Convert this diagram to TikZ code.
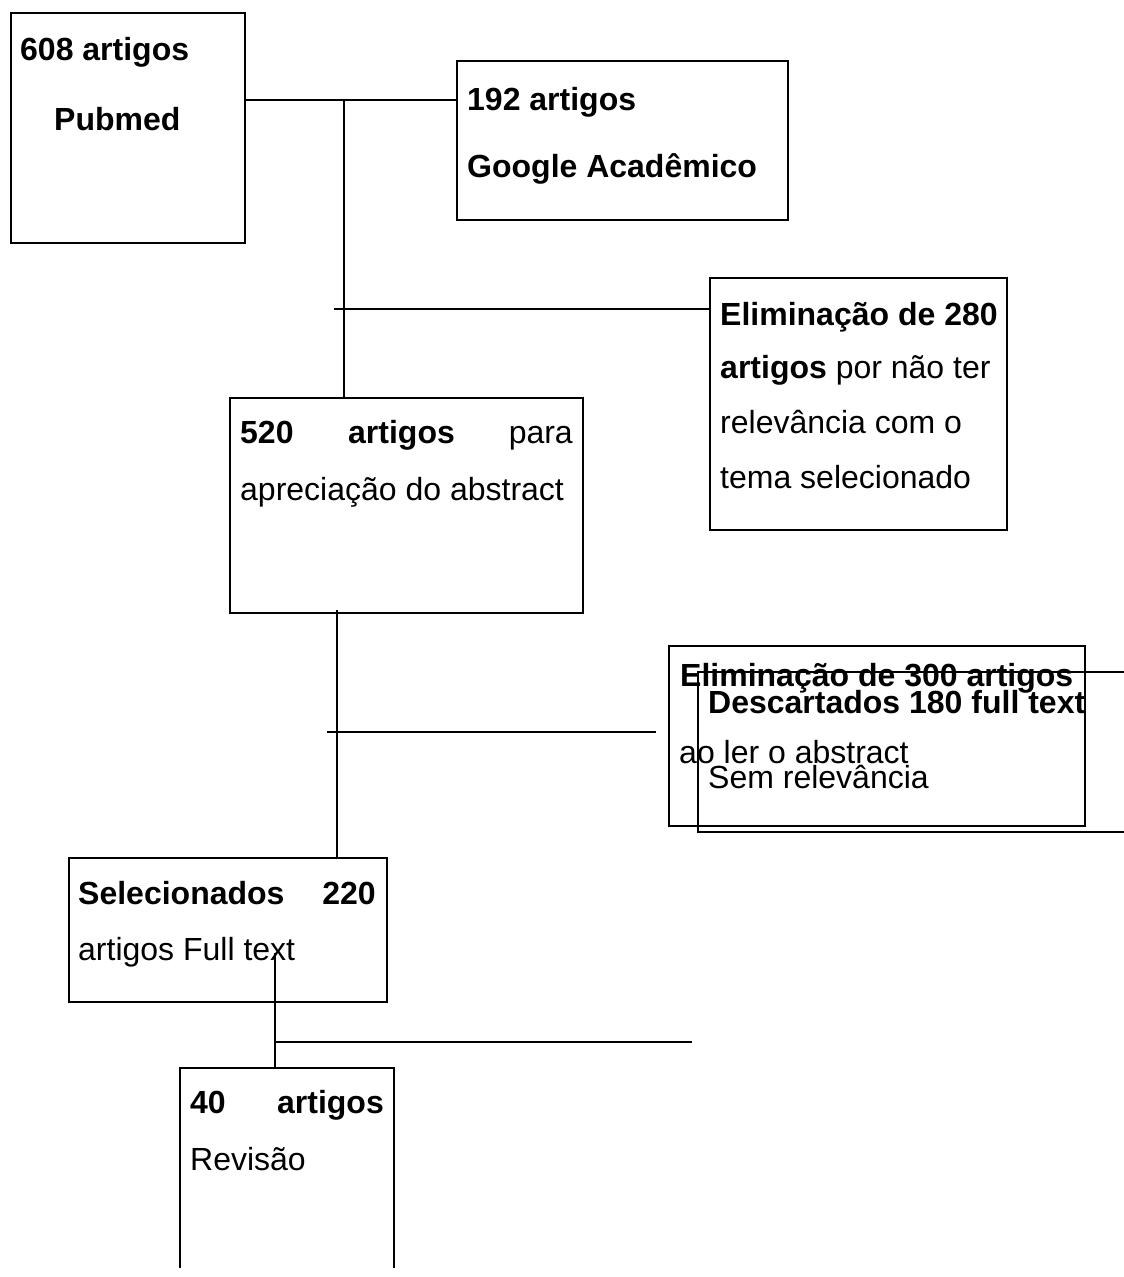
\documentclass[tikz,border=0pt]{standalone}
\usepackage{fontspec}
\setmainfont{Liberation Sans}
\begin{document}
\begin{tikzpicture}[x=1pt,y=-1pt,
  box/.style={draw, line width=2pt, inner sep=0pt, anchor=north west},
  txt/.style={anchor=base west, inner sep=0pt, font=\fontsize{32}{38}\selectfont},
  txtr/.style={anchor=base east, inner sep=0pt, font=\fontsize{32}{38}\selectfont},
  conn/.style={line width=1.8pt}]
\useasboundingbox (0,0) rectangle (1124,1277);
\fill[white] (0,0) rectangle (1124,1277);

% boxes
\node[box, minimum width=234pt, minimum height=230pt] (pub) at (10,12) {};
\node[box, minimum width=331pt, minimum height=159pt] (goo) at (456,60) {};
\node[box, minimum width=297pt, minimum height=252pt] (e280) at (709,277) {};
\node[box, minimum width=353pt, minimum height=215pt] (a520) at (229,397) {};
\node[box, minimum width=416pt, minimum height=180pt] (e300) at (668,645) {};
\node[box, minimum width=470pt, minimum height=160pt] (desc) at (697,671) {};
\node[box, minimum width=318pt, minimum height=144pt] (sel) at (68,857) {};
\node[inner sep=0pt, minimum width=214pt, minimum height=200pt, anchor=north west] (rev) at (180,1068) {};
\draw[line width=2pt] (rev.south west) -- (rev.north west) -- (rev.north east) -- (rev.south east);

% texts
\node[txt] (t1) at (20,60) {\bfseries 608 artigos};
\node[txt] (t2) at (54,130) {\bfseries Pubmed};
\node[txt] (t3) at (467,110) {\bfseries 192 artigos};
\node[txt] (t4) at (467,177) {\bfseries Google Acadêmico};

\node[txt] (t5) at (720,325) {\bfseries Eliminação de 280};
\node[txt] (t6) at (720,378) {\textbf{artigos} por não ter};
\node[txt] (t7) at (720,433) {relevância com o};
\node[txt] (t8) at (720,488) {tema selecionado};

\node[txt] (t9) at (240,443) {\bfseries 520};
\node[txt] (t10) at (348,443) {\bfseries artigos};
\node[txtr] (t11) at (573,443) {para};
\node[txt] (t12) at (240,500) {apreciação do abstract};

\node[txt] (t13) at (680,686) {\bfseries Eliminação de 300 artigos};
\node[txt] (t14) at (679,763) {ao ler o abstract};
\node[txt] (t15) at (708,713) {\bfseries Descartados 180 full text};
\node[txt] (t16) at (708,788) {Sem relevância};

\node[txt] (t17) at (78,904) {\bfseries Selecionados};
\node[txtr] (t18) at (376,904) {\bfseries 220};
\node[txt] (t19) at (78,960) {artigos Full text};

\node[txt] (t20) at (190,1113) {\bfseries 40};
\node[txtr] (t21) at (384,1113) {\bfseries artigos};
\node[txt] (t22) at (190,1170) {Revisão};

% connectors
\coordinate (j1) at (344,100);
\draw[conn] (pub.east |- j1) -- (goo.west |- j1);
\draw[conn] (j1) -- (a520.north -| j1);

\coordinate (h1s) at (334,309);
\draw[conn] (h1s) -- (e280.west |- h1s);

\coordinate (v2t) at (337,610);
\draw[conn] (v2t) -- (sel.north -| v2t);

\coordinate (h2s) at (327,732);
\coordinate (h2e) at (656,732);
\draw[conn] (h2s) -- (h2e);

\coordinate (v3t) at (275,953);
\draw[conn] (v3t) -- (rev.north -| v3t);

\coordinate (h3e) at (692,1042);
\draw[conn] (v3t |- h3e) -- (h3e);
\end{tikzpicture}
\end{document}
